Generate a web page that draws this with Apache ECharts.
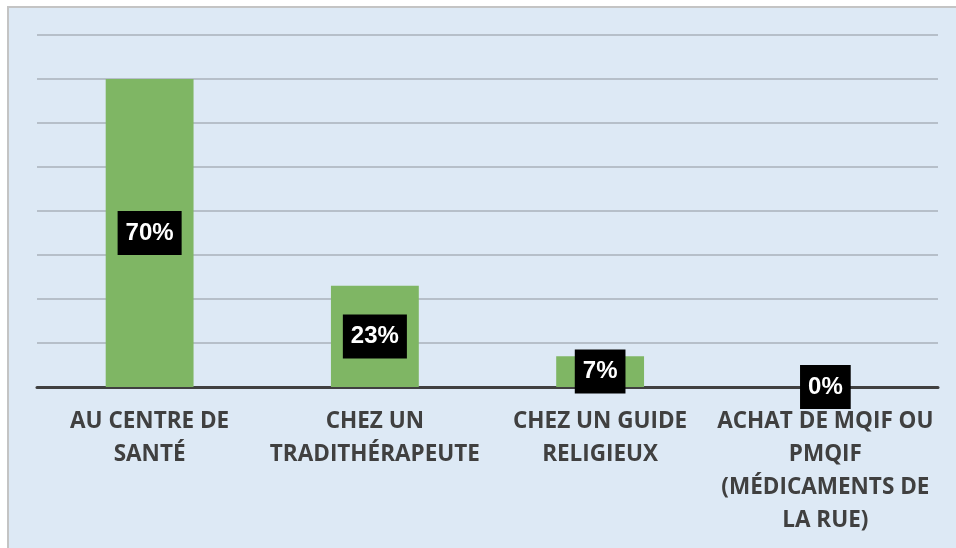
<!DOCTYPE html>
<html>
<head>
<meta charset="utf-8">
<script src="https://cdn.jsdelivr.net/npm/echarts@6/dist/echarts.min.js"></script>
<style>
  html, body { margin: 0; padding: 0; background: #ffffff; }
  #container {
    position: absolute;
    left: 7px;
    top: 6px;
    width: 947px;
    height: 540px;
    border-left: 2px solid #c4c4c4;
    border-top: 2px solid #c4c4c4;
    background: #dde9f5;
  }
</style>
</head>
<body>
<div id="container"></div>
<script>
var categories = [
  "AU CENTRE DE\nSANTÉ",
  "CHEZ UN\nTRADITHÉRAPEUTE",
  "CHEZ UN GUIDE\nRELIGIEUX",
  "ACHAT DE MQIF OU\nPMQIF\n(MÉDICAMENTS DE\nLA RUE)"
];
var values = [70, 23, 7, 0];

var dom = document.getElementById("container");
var myChart = echarts.init(dom, null, { renderer: "canvas" });

var option = {
  backgroundColor: "#dde9f5",
  animation: false,
  grid: { left: 28, right: 18, top: 27, bottom: 161 },
  xAxis: {
    type: "category",
    data: categories,
    axisLine: { lineStyle: { color: "#404040", width: 3 } },
    axisTick: { length: 6, lineStyle: { color: "#404040", width: 3 } },
    axisLabel: {
      interval: 0,
      margin: 18,
      color: "#404040",
      fontFamily: "Open Sans",
      fontWeight: "bold",
      fontSize: 22.5,
      lineHeight: 33
    }
  },
  yAxis: {
    type: "value",
    min: 0,
    max: 80,
    interval: 10,
    axisLabel: { show: false },
    axisLine: { show: false },
    axisTick: { show: false },
    splitLine: { lineStyle: { color: "#a9b1ba", width: 1.5 } }
  },
  series: [
    {
      type: "bar",
      data: values,
      barWidth: "39%",
      itemStyle: { color: "#7fb664" },
      label: {
        show: true,
        position: "inside",
        formatter: "{c}%",
        color: "#ffffff",
        backgroundColor: "#000000",
        fontFamily: "Liberation Sans, Arial",
        fontWeight: "bold",
        fontSize: 24,
        padding: [10, 8, 10, 8]
      }
    }
  ]
};

myChart.setOption(option);
window.addEventListener("resize", myChart.resize);
</script>
</body>
</html>
